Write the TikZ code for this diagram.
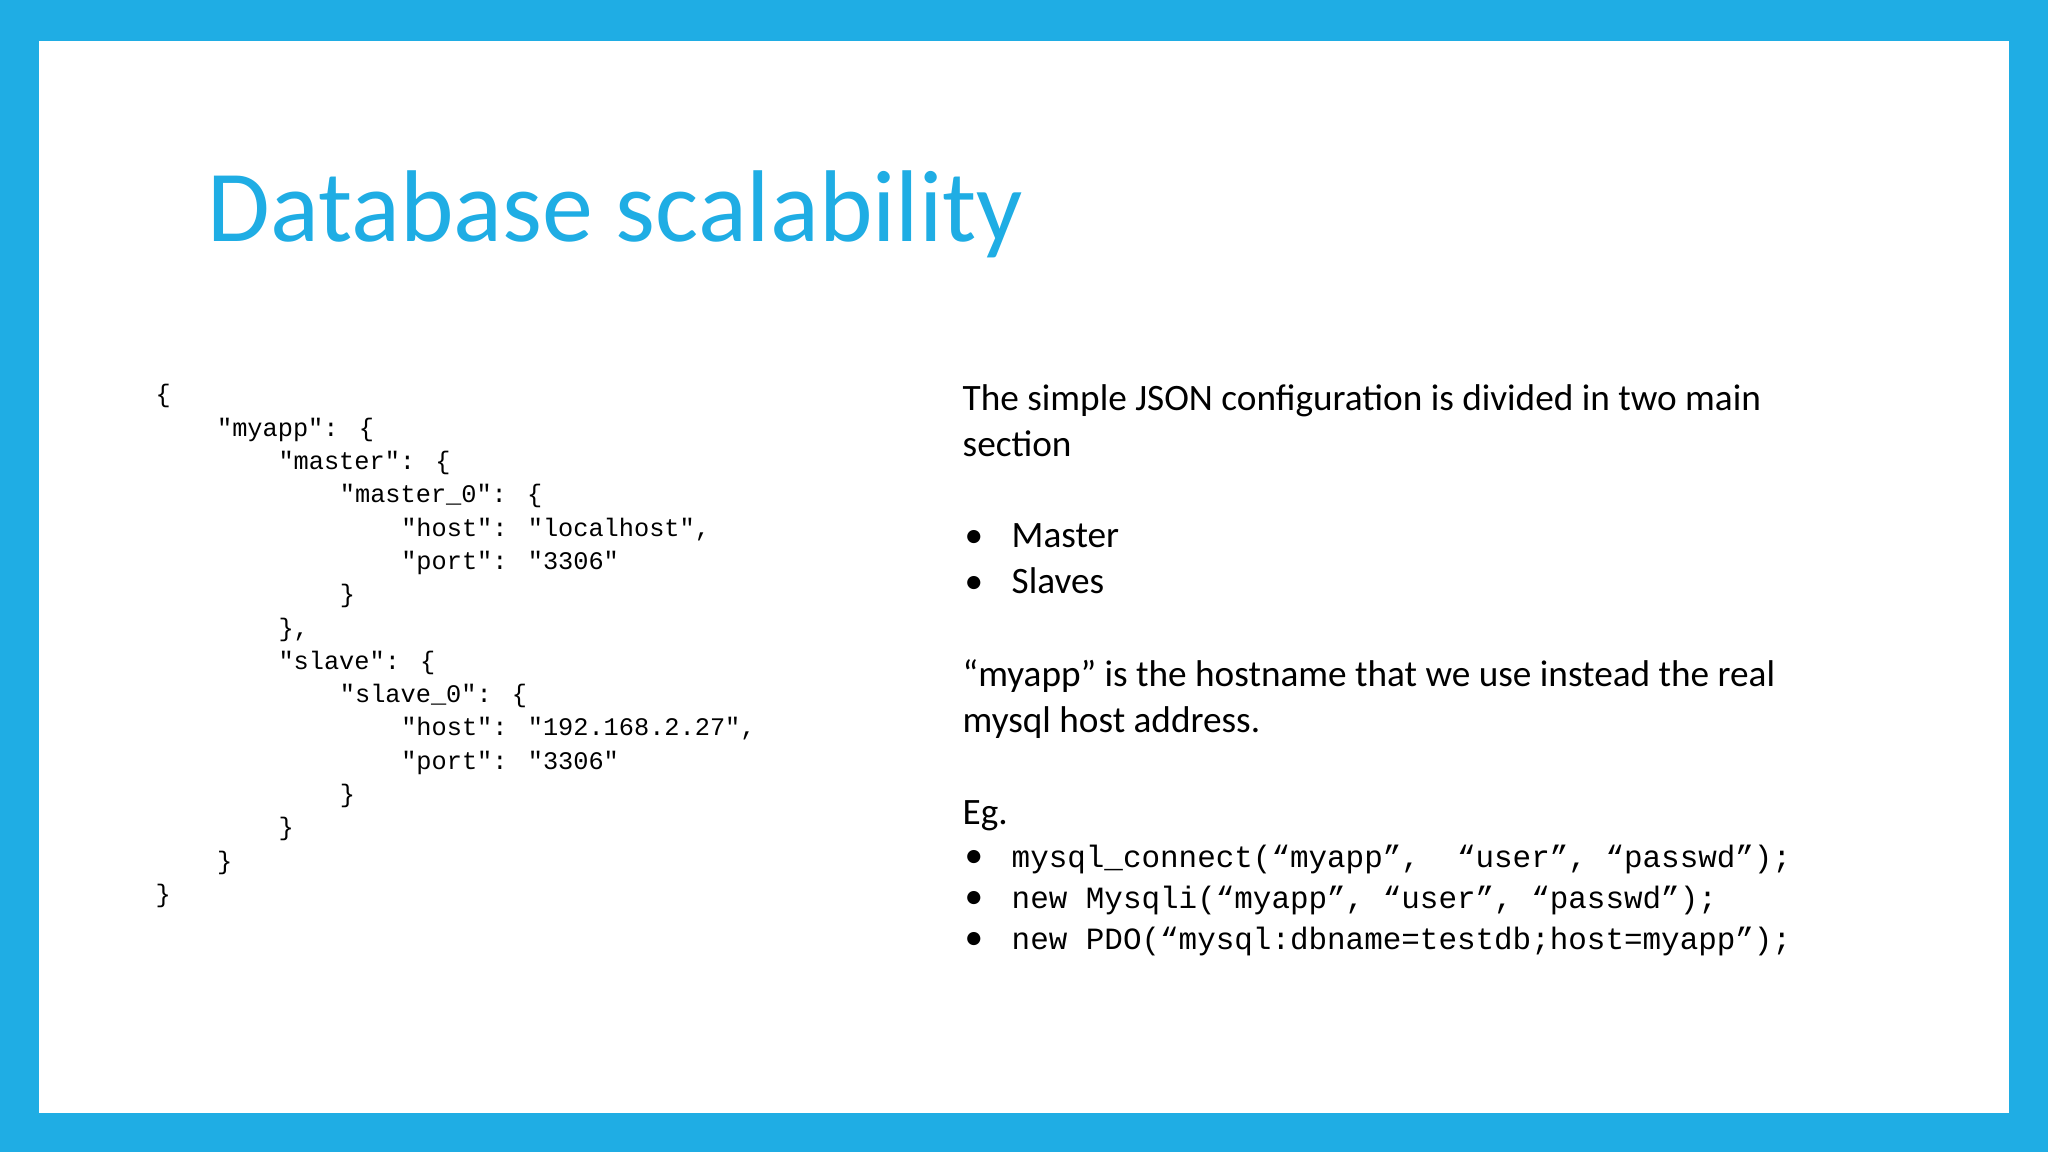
\documentclass[tikz,border=0pt]{standalone}
\usepackage{fontspec}
\setmainfont{Carlito}
\newfontfamily\codefont{Liberation Mono}
\definecolor{frameblue}{HTML}{1FADE4}
\tikzset{ln/.style={anchor=base west,inner sep=0pt,font=\codefont\fontsize{7.2}{9}\selectfont},
 tx/.style={anchor=base west,inner sep=0pt,font=\fontsize{10.6}{13}\selectfont},
 cd/.style={anchor=base west,inner sep=0pt,font=\codefont\fontsize{8.8}{10}\selectfont}}
\begin{document}
\begin{tikzpicture}[x=1cm,y=-1cm]
\fill[frameblue] (0,0) rectangle (20.48,11.52);
\fill[white] (0.39,0.41) rectangle (20.09,11.13);
\node[anchor=base west,inner sep=0pt,text=frameblue,font=\fontsize{29}{34}\selectfont] (title) at (2.07,2.42) {Database scalability};
% JSON code
\foreach \i/\k/\t in {0/0/{\{},1/1/{"myapp": \{},2/2/{"master": \{},3/3/{"master\_0": \{},4/4/{"host": "localhost",},5/4/{"port": "3306"},6/3/{\}},7/2/{\},},8/2/{"slave": \{},9/3/{"slave\_0": \{},10/4/{"host": "192.168.2.27",},11/4/{"port": "3306"},12/3/{\}},13/2/{\}},14/1/{\}},15/0/{\}}}
  \node[ln] (c\i) at ({1.55+\k*0.614},{4.03+\i*0.333}) {\t};
% right text
\node[tx] (t1) at (9.62,4.11) {The simple JSON configuration is divided in two main};
\node[tx] (t2) at (9.62,4.57) {section};
\node[tx] (b1) at (9.64,5.48) {•}; \node[tx] (m1) at (10.11,5.48) {Master};
\node[tx] (b2) at (9.64,5.94) {•}; \node[tx] (m2) at (10.11,5.94) {Slaves};
\node[tx] (t3) at (9.62,6.87) {“myapp” is the hostname that we use instead the real};
\node[tx] (t4) at (9.62,7.33) {mysql host address.};
\node[tx] (t5) at (9.62,8.25) {Eg.};
\node[tx] (b3) at (9.64,8.67) {•}; \node[cd] (e1) at (10.11,8.67) {mysql\_connect(“myapp”,\ \ “user”, “passwd”);};
\node[tx] (b4) at (9.64,9.08) {•}; \node[cd] (e2) at (10.11,9.08) {new Mysqli(“myapp”, “user”, “passwd”);};
\node[tx] (b5) at (9.64,9.49) {•}; \node[cd] (e3) at (10.11,9.49) {new PDO(“mysql:dbname=testdb;host=myapp”);};
\end{tikzpicture}
\end{document}
